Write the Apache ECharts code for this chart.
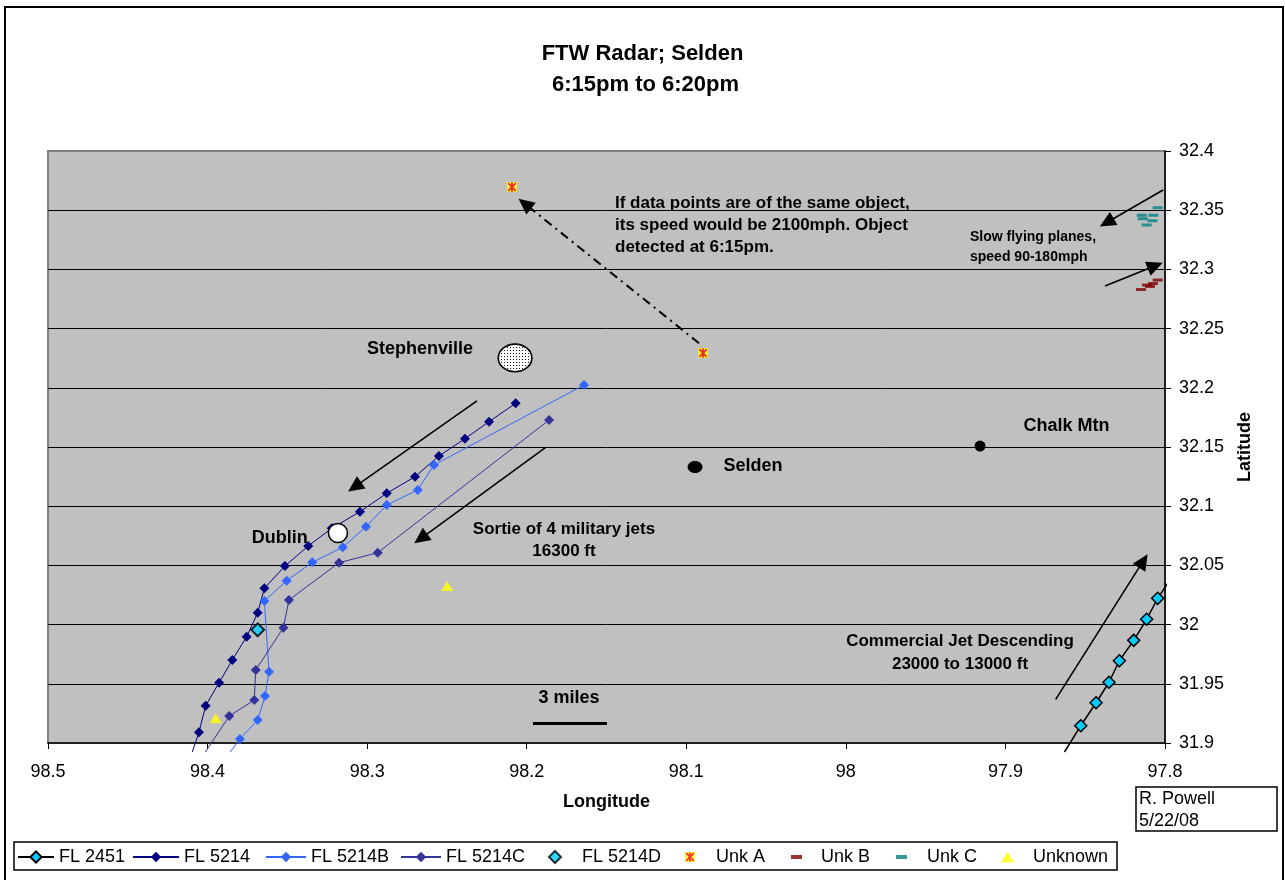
<!DOCTYPE html>
<html><head><meta charset="utf-8">
<script src="https://cdn.jsdelivr.net/npm/echarts@6/dist/echarts.min.js"></script>
<style>html,body{margin:0;padding:0;background:#fff}#chart{width:1285px;height:880px}</style>
</head><body><div id="chart"></div>
<script>
// ---------------- DATA ----------------
const fl2451Lon = [97.7969, 97.8046, 97.8115, 97.8196, 97.8286, 97.8351, 97.8432, 97.8528, 97.8630];
const fl2451Lat = [32.0377, 32.0222, 32.0045, 31.9867, 31.9695, 31.9513, 31.9340, 31.9146, 31.8924];
const fl5214Lon = [98.2069, 98.2236, 98.2387, 98.2550, 98.2700, 98.2877, 98.3045, 98.3222, 98.3369, 98.3515, 98.3644, 98.3686, 98.3755, 98.3845, 98.3928, 98.4012, 98.4054, 98.4096];
const fl5214Lat = [32.1869, 32.1714, 32.1570, 32.1424, 32.1249, 32.1109, 32.0954, 32.0813, 32.0664, 32.0495, 32.0307, 32.0100, 31.9898, 31.9701, 31.9509, 31.9315, 31.9090, 31.8924];
const fl5214BLon = [98.1641, 98.2581, 98.2683, 98.2877, 98.3007, 98.3153, 98.3344, 98.3504, 98.3644, 98.3615, 98.3640, 98.3686, 98.3797, 98.3858];
const fl5214BLat = [32.2024, 32.1348, 32.1137, 32.1010, 32.0827, 32.0653, 32.0526, 32.0371, 32.0199, 31.9602, 31.9397, 31.9194, 31.9034, 31.8924];
const fl5214CLon = [98.1860, 98.2934, 98.3176, 98.3490, 98.3525, 98.3698, 98.3707, 98.3864, 98.4014];
const fl5214CLat = [32.1728, 32.0607, 32.0523, 32.0208, 31.9974, 31.9617, 31.9363, 31.9228, 31.8924];
const fl5214DLon = [98.3686];
const fl5214DLat = [31.9956];
const unkALon = [98.2092, 98.0895];
const unkALat = [32.3696, 32.2294];
const unkBLon = [97.8046, 97.8075, 97.8113, 97.8094, 97.8150];
const unkBLat = [32.2910, 32.2881, 32.2868, 32.2856, 32.2830];
const unkCLon = [97.8046, 97.8146, 97.8073, 97.8140, 97.8079, 97.8115];
const unkCLat = [32.3521, 32.3457, 32.3457, 32.3428, 32.3411, 32.3375];
const unknownLon = [98.2498, 98.3949];
const unknownLat = [32.0326, 31.9209];
const townNames = ['Stephenville', 'Dublin', 'Selden', 'Chalk Mtn'];
const townLon = [98.2073, 98.3183, 98.0945, 97.9159];
const townLat = [32.2252, 32.0774, 32.1331, 32.1508];
const legendNames = ['FL 2451', 'FL 5214', 'FL 5214B', 'FL 5214C', 'FL 5214D', 'Unk A', 'Unk B', 'Unk C', 'Unknown'];
const xMin = 97.8, xMax = 98.5, xStep = 0.1;
const yMin = 31.9, yMax = 32.4, yStep = 0.05;

// annotation arrows [fromLon, fromLat, toLon, toLat]
const arrowCoords = [
  [98.2312, 32.1889, 98.3078, 32.1163],
  [98.1881, 32.1497, 98.2664, 32.0726],
  [97.8012, 32.3671, 97.8365, 32.3396],
  [97.8376, 32.2860, 97.8061, 32.3030],
  [97.8685, 31.9369, 97.8136, 32.0538]
];
const unkAArrow = [98.0920, 32.2376, 98.2012, 32.3555];
const scaleBar = [98.1961, 98.1497, 31.9169];

// ---------------- STYLE ----------------
const FF = '"Liberation Sans", Arial, sans-serif';
const svgUri = (s) => 'image://data:image/svg+xml;charset=utf-8,' + encodeURIComponent(s);
const unkASymbol = svgUri('<svg xmlns="http://www.w3.org/2000/svg" width="12" height="12" viewBox="0 0 12 12"><rect x="1" y="1" width="10" height="10" fill="#FFFF00"/><path d="M2.2 2.2L9.8 9.8M9.8 2.2L2.2 9.8M6 1.2V10.8" stroke="#FF0000" stroke-width="1.7"/></svg>');
const stippleSymbol = svgUri('<svg xmlns="http://www.w3.org/2000/svg" width="36" height="30" viewBox="0 0 36 30" preserveAspectRatio="none"><defs><pattern id="d" x="0" y="0" width="3" height="3" patternUnits="userSpaceOnUse"><rect width="3" height="3" fill="#ffffff"/><rect x="1" y="1" width="1" height="1" fill="#000000"/></pattern></defs><ellipse cx="18" cy="15" rx="16.8" ry="13.8" fill="url(#d)" stroke="#000000" stroke-width="1.6"/></svg>');
const ellipsePath = 'path://M50,0C77.6,0 100,22.4 100,50C100,77.6 77.6,100 50,100C22.4,100 0,77.6 0,50C0,22.4 22.4,0 50,0Z';

function pts(lon, lat) {
  return lon.map((x, i) => {
    const item = { value: [x, lat[i]] };
    if (x < xMin || x > xMax || lat[i] < yMin || lat[i] > yMax) item.symbol = 'none';
    return item;
  });
}
function track(name, lon, lat, color, lineColor, size, border) {
  return {
    name, type: 'line', data: pts(lon, lat), clip: false, z: 3,
    symbol: 'diamond', symbolSize: size, showSymbol: true,
    lineStyle: { color: lineColor, width: border ? 1.5 : 1 },
    itemStyle: border ? { color: color, borderColor: '#000', borderWidth: 1.5 } : { color: color },
    emphasis: { disabled: true }, animation: false
  };
}
function scat(name, lon, lat, symbol, size, itemStyle) {
  return { name, type: 'scatter', data: pts(lon, lat), symbol, symbolSize: size, itemStyle, z: 4, emphasis: { disabled: true }, animation: false };
}

const labelBase = { show: true, color: '#000000', fontSize: 18, fontWeight: 'bold', fontFamily: FF, opacity: 1, textBorderWidth: 0 };
const townStyles = [
  { symbol: stippleSymbol, symbolSize: [36, 30], symbolKeepAspect: false,
    itemStyle: { color: '#ffffff', opacity: 1 },
    label: Object.assign({}, labelBase, { position: 'left', distance: 24, offset: [0, -9] }) },
  { symbol: 'circle', symbolSize: 19, itemStyle: { color: '#fff', borderColor: '#000', borderWidth: 1.5, opacity: 1 },
    label: Object.assign({}, labelBase, { position: 'left', distance: 20, offset: [0, 5] }) },
  { symbol: ellipsePath, symbolSize: [15, 12], symbolKeepAspect: false, itemStyle: { color: '#000', opacity: 1 },
    label: Object.assign({}, labelBase, { position: 'right', distance: 21, offset: [0, -1] }) },
  { symbol: 'circle', symbolSize: 11, itemStyle: { color: '#000', opacity: 1 },
    label: Object.assign({}, labelBase, { position: 'right', distance: 38, offset: [0, -20] }) }
];

const markData = arrowCoords.map(a => [
  { coord: [a[0], a[1]], symbol: 'none', lineStyle: { color: '#000', width: 1.6, type: 'solid' } },
  { coord: [a[2], a[3]], symbol: 'triangle' }
]);
markData.push([
  { coord: [unkAArrow[0], unkAArrow[1]], symbol: 'none', lineStyle: { color: '#000', width: 2, type: [9, 5, 2, 5] } },
  { coord: [unkAArrow[2], unkAArrow[3]], symbol: 'triangle' }
]);
markData.push([
  { coord: [scaleBar[0], scaleBar[2]], symbol: 'none', lineStyle: { color: '#000', width: 3, type: 'solid' } },
  { coord: [scaleBar[1], scaleBar[2]], symbol: 'none' }
]);

const townSeries = {
  name: 'towns', type: 'scatter', z: 6, animation: false, emphasis: { disabled: true },
  data: townNames.map((n, i) => Object.assign({ name: n, value: [townLon[i], townLat[i]] }, townStyles[i])),
  label: Object.assign({ formatter: '{b}' }, labelBase),
  markLine: {
    silent: true, animation: false, symbolSize: [15, 16], label: { show: false },
    lineStyle: { color: '#000', opacity: 1 }, itemStyle: { color: '#000', opacity: 1 },
    data: markData
  }
};

const series = [
  track('FL 2451', fl2451Lon, fl2451Lat, '#00CCFF', '#000000', 12, true),
  track('FL 5214', fl5214Lon, fl5214Lat, '#000080', '#000080', 10, false),
  track('FL 5214B', fl5214BLon, fl5214BLat, '#3366FF', '#3366FF', 10, false),
  track('FL 5214C', fl5214CLon, fl5214CLat, '#333399', '#333399', 10, false),
  scat('FL 5214D', fl5214DLon, fl5214DLat, 'diamond', 13, { color: '#00CCFF', borderColor: '#000', borderWidth: 2 }),
  scat('Unk A', unkALon, unkALat, unkASymbol, 12, { color: '#FF0000' }),
  scat('Unk B', unkBLon, unkBLat, 'rect', [10, 3], { color: '#800000' }),
  scat('Unk C', unkCLon, unkCLat, 'rect', [10, 3], { color: '#008080' }),
  scat('Unknown', unknownLon, unknownLat, 'triangle', [12, 10], { color: '#FFFF00' }),
  townSeries
];

// legend layout: [left, itemWidth, itemHeight, textPadLeft]
const legendLayout = [
  [17, 36, 14, 0], [132, 46, 13, 0], [265, 40, 13, 0], [400, 40, 13, 0],
  [548, 12, 12, 16], [684, 12, 12, 15], [791, 11, 4, 14], [896, 11, 4, 15], [1001, 13, 11, 14]
];
const legends = legendNames.map((n, i) => ({
  data: [n], left: legendLayout[i][0], top: 848, padding: 0, selectedMode: false,
  itemWidth: legendLayout[i][1], itemHeight: legendLayout[i][2],
  textStyle: { fontSize: 18, color: '#000', fontFamily: FF, padding: [0, 0, 0, legendLayout[i][3]] }
}));

const boldFont = (s) => 'bold ' + s + 'px ' + FF;
const graphics = [
  { type: 'polyline', z: 0, silent: true, shape: { points: [[5, 880], [5, 7], [1283, 7], [1283, 880]] }, style: { stroke: '#000', lineWidth: 2, fill: null } },
  { type: 'rect', z: 0, silent: true, shape: { x: 14, y: 842, width: 1103, height: 28 }, style: { stroke: '#000', lineWidth: 1.5, fill: null } },
  { type: 'rect', z: 0, silent: true, shape: { x: 1136, y: 787, width: 141, height: 44 }, style: { stroke: '#000', lineWidth: 1.5, fill: '#fff' } },
  { type: 'text', z: 10, silent: true, style: { text: 'R. Powell\n5/22/08', x: 1139, y: 788, font: '18px ' + FF, fill: '#000', lineHeight: 22, textVerticalAlign: 'top' } },
  { type: 'text', z: 10, silent: true, style: { text: 'If data points are of the same object,\nits speed would be 2100mph. Object\ndetected at 6:15pm.', x: 615, y: 192, font: boldFont(17), fill: '#000', lineHeight: 22, textVerticalAlign: 'top' } },
  { type: 'text', z: 10, silent: true, style: { text: 'Slow flying planes,\nspeed 90-180mph', x: 970, y: 227, font: boldFont(14), fill: '#000', lineHeight: 20, textVerticalAlign: 'top' } },
  { type: 'text', z: 10, silent: true, style: { text: 'Sortie of 4 military jets\n16300 ft', x: 564, y: 518, font: boldFont(17), fill: '#000', lineHeight: 22.5, textAlign: 'center', textVerticalAlign: 'top' } },
  { type: 'text', z: 10, silent: true, style: { text: 'Commercial Jet Descending\n23000 to 13000 ft', x: 960, y: 629.5, font: boldFont(17), fill: '#000', lineHeight: 23, textAlign: 'center', textVerticalAlign: 'top' } },
  { type: 'text', z: 10, silent: true, style: { text: '3 miles', x: 569, y: 698, font: boldFont(18), fill: '#000', textAlign: 'center', textVerticalAlign: 'middle' } }
];

const chart = echarts.init(document.getElementById('chart'), null, { renderer: 'canvas' });
chart.setOption({
  animation: false,
  backgroundColor: '#fff',
  textStyle: { fontFamily: FF },
  title: {
    text: 'FTW Radar; Selden\n 6:15pm to 6:20pm', left: 'center', top: 38, padding: 0,
    textStyle: { fontSize: 22, fontWeight: 'bold', color: '#000', lineHeight: 31, fontFamily: FF }
  },
  legend: legends,
  grid: { left: 48, right: 120, top: 151, bottom: 137, show: true, backgroundColor: '#C0C0C0', borderColor: '#808080', borderWidth: 2, outerBoundsMode: 'none' },
  xAxis: {
    type: 'value', min: xMin, max: xMax, interval: xStep, inverse: true, position: 'bottom',
    axisLine: { show: true, onZero: false, lineStyle: { color: '#000', width: 1.5 } },
    axisTick: { show: true, length: 6, lineStyle: { color: '#000' } },
    axisLabel: { fontSize: 18, color: '#000', margin: 20, fontFamily: FF },
    splitLine: { show: false },
    name: 'Longitude', nameLocation: 'middle', nameGap: 50,
    nameTextStyle: { fontSize: 18, fontWeight: 'bold', color: '#000', fontFamily: FF }
  },
  yAxis: {
    type: 'value', min: yMin, max: yMax, interval: yStep, position: 'right',
    axisLine: { show: true, onZero: false, lineStyle: { color: '#000', width: 1.5 } },
    axisTick: { show: true, length: 6, lineStyle: { color: '#000' } },
    axisLabel: { fontSize: 18, color: '#000', margin: 14, fontFamily: FF },
    splitLine: { show: true, showMaxLine: false, showMinLine: false, lineStyle: { color: '#000', width: 1 } },
    name: 'Latitude', nameLocation: 'middle', nameGap: 71,
    nameTextStyle: { fontSize: 18, fontWeight: 'bold', color: '#000', fontFamily: FF }
  },
  series: series,
  graphic: graphics
});
</script>
</body></html>
